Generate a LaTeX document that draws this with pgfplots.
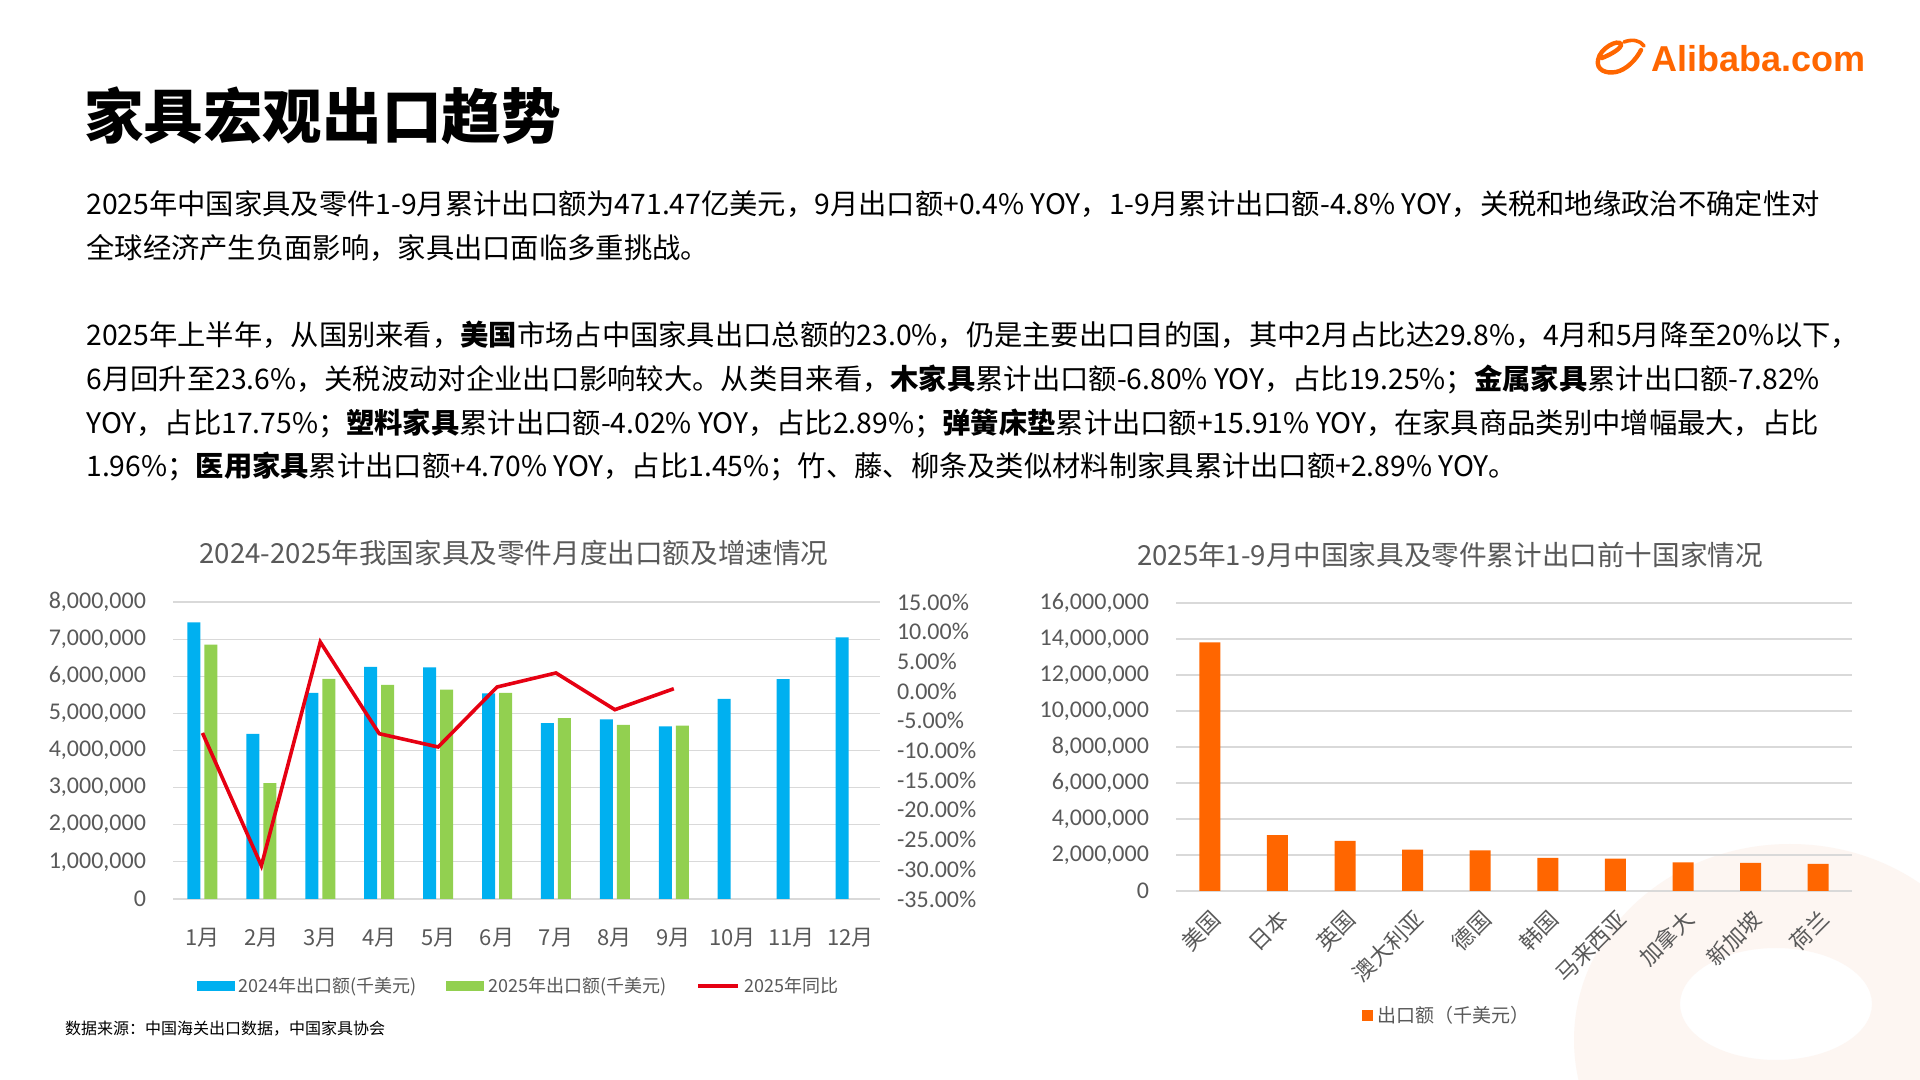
\documentclass[border=0pt]{standalone}
\usepackage{fontspec}
\setmainfont{Noto Sans CJK SC}
\newfontfamily\tickfont{Carlito}
\newfontfamily\logofont{Liberation Sans}
\usepackage{pgfplots}
\pgfplotsset{compat=1.18}
\pgfplotsset{/pgf/number format/assume math mode=true}
\definecolor{c24}{HTML}{00B0F0}
\definecolor{c25}{HTML}{92D050}
\definecolor{cred}{HTML}{E60012}
\definecolor{corange}{HTML}{FF6600}
\definecolor{gridc}{HTML}{D9D9D9}
\definecolor{txt}{HTML}{595959}
\definecolor{peach}{HTML}{FDF6F2}
\newcommand{\ptext}{\fontsize{14.15pt}{16pt}\selectfont}
\begin{document}
\begin{tikzpicture}
\useasboundingbox[fill=white] (0,0) rectangle (960pt,540pt);
% faint background ring
\begin{scope}
\clip (0,0) rectangle (960pt,540pt);
\fill[peach, even odd rule] (895pt,20pt) ellipse [x radius=108pt, y radius=98pt]
   (888pt,38pt) ellipse [x radius=48pt, y radius=28pt];
\end{scope}
% logo
\draw[corange, line width=2.2pt, line cap=round] (801pt,511pt) .. controls (806pt,513pt) and (811pt,516pt) .. (810.5pt,518pt) .. controls (809pt,520.5pt) and (800pt,516pt) .. (799pt,510pt) .. controls (798pt,505pt) and (803pt,503pt) .. (808pt,504pt) .. controls (813pt,505pt) and (818pt,510pt) .. (820.5pt,515pt);
\draw[corange, line width=1.8pt, line cap=round] (812pt,519pt) .. controls (816pt,520.5pt) and (820pt,520pt) .. (822pt,517pt);
\node[anchor=west, text=corange, font=\logofont\fontsize{18pt}{20pt}\selectfont\bfseries] at (822pt,510.5pt) {Alibaba.com};
% title
\node[anchor=west, font=\fontsize{29.8pt}{34pt}\selectfont\bfseries] at (38.5pt,482pt) {家具宏观出口趋势};
% paragraphs
\node[anchor=base west, inner sep=0pt, font=\ptext] at (43pt,432.7pt) {2025年中国家具及零件1-9月累计出口额为471.47亿美元，9月出口额+0.4\% YOY，1-9月累计出口额-4.8\% YOY，关税和地缘政治不确定性对};
\node[anchor=base west, inner sep=0pt, font=\ptext] at (43pt,410.6pt) {全球经济产生负面影响，家具出口面临多重挑战。};
\node[anchor=base west, inner sep=0pt, font=\ptext] at (43pt,367.2pt) {2025年上半年，从国别来看，\textbf{美国}市场占中国家具出口总额的23.0\%，仍是主要出口目的国，其中2月占比达29.8\%，4月和5月降至20\%以下，};
\node[anchor=base west, inner sep=0pt, font=\ptext] at (43pt,345.1pt) {6月回升至23.6\%，关税波动对企业出口影响较大。从类目来看，\textbf{木家具}累计出口额-6.80\% YOY，占比19.25\%；\textbf{金属家具}累计出口额-7.82\%};
\node[anchor=base west, inner sep=0pt, font=\ptext] at (43pt,323.1pt) {YOY，占比17.75\%；\textbf{塑料家具}累计出口额-4.02\% YOY，占比2.89\%；\textbf{弹簧床垫}累计出口额+15.91\% YOY，在家具商品类别中增幅最大，占比};
\node[anchor=base west, inner sep=0pt, font=\ptext] at (43pt,301.7pt) {1.96\%；\textbf{医用家具}累计出口额+4.70\% YOY，占比1.45\%；竹、藤、柳条及类似材料制家具累计出口额+2.89\% YOY。};
% chart titles
\node[text=txt, font=\fontsize{13.8pt}{15pt}\selectfont] at (257pt,263.5pt) {2024-2025年我国家具及零件月度出口额及增速情况};
\node[text=txt, font=\fontsize{13.8pt}{15pt}\selectfont] at (725pt,262.5pt) {2025年1-9月中国家具及零件累计出口前十国家情况};
% source
\node[anchor=west, font=\fontsize{8pt}{10pt}\selectfont] at (29pt,25.5pt) {数据来源：中国海关出口数据，中国家具协会};

% left chart bars
\begin{axis}[at={(86.5pt,90.5pt)}, anchor=south west, scale only axis,
  width=353.5pt, height=148.5pt,
  xmin=0.5, xmax=12.5, ymin=0, ymax=8000000,
  ybar=2pt, bar width=6.5pt,
  xtick={1,2,3,4,5,6,7,8,9,10,11,12},
  xticklabels={1月,2月,3月,4月,5月,6月,7月,8月,9月,10月,11月,12月},
  ytick={0,1000000,2000000,3000000,4000000,5000000,6000000,7000000,8000000},
  scaled y ticks=false,
  yticklabel style={/pgf/number format/fixed, /pgf/number format/1000 sep={,}, font=\tickfont\fontsize{12pt}{13pt}\selectfont, text=txt, xshift=-10pt},
  xticklabel style={font=\fontsize{11pt}{12pt}\selectfont, text=txt, yshift=-11pt},
  ymajorgrids, grid style={gridc, line width=0.6pt},
  axis line style={draw=none},
  major tick length=0pt,
]
\addplot[fill=c24, draw=none] coordinates {(1,7450000) (2,4450000) (3,5550000) (4,6250000) (5,6240000) (6,5540000) (7,4740000) (8,4840000) (9,4650000) (10,5390000) (11,5920000) (12,7050000)};
\addplot[fill=c25, draw=none] coordinates {(1,6850000) (2,3120000) (3,5930000) (4,5770000) (5,5640000) (6,5550000) (7,4870000) (8,4690000) (9,4670000)};
\end{axis}
% left chart line
\begin{axis}[at={(86.5pt,90.5pt)}, anchor=south west, scale only axis,
  width=353.5pt, height=148.5pt,
  xmin=0.5, xmax=12.5, ymin=-35, ymax=15,
  axis y line*=right, axis x line=none,
  ytick={-35,-30,-25,-20,-15,-10,-5,0,5,10,15},
  yticklabel={\pgfmathprintnumber[fixed,fixed zerofill,precision=2]{\tick}\%},
  yticklabel style={font=\tickfont\fontsize{12pt}{13pt}\selectfont, text=txt, xshift=5pt},
  axis line style={draw=none},
  major tick length=0pt,
  legend style={at={(0.49,-0.293)}, anchor=center, draw=none, fill=none,
    legend columns=3, font=\fontsize{9pt}{10pt}\selectfont, text=txt,
    /tikz/every even column/.append style={column sep=13pt}},
]
\addlegendimage{legend image code/.code={\fill[c24] (0pt,-2.25pt) rectangle (18.5pt,2.25pt);}}
\addlegendentry{2024年出口额(千美元)}
\addlegendimage{legend image code/.code={\fill[c25] (0pt,-2.25pt) rectangle (18.5pt,2.25pt);}}
\addlegendentry{2025年出口额(千美元)}
\addplot[cred, line width=1.8pt, legend image code/.code={\draw[cred, line width=2pt] (0pt,0pt) -- (20pt,0pt);}] coordinates {(1,-7.05) (2,-29.4) (3,8.27) (4,-7.17) (5,-9.41) (6,0.69) (7,3.05) (8,-3.13) (9,0.4)};
\addlegendentry{2025年同比}
\end{axis}

% right chart
\begin{axis}[at={(588pt,94.5pt)}, anchor=south west, scale only axis,
  width=338pt, height=144pt,
  xmin=-0.5, xmax=9.5, ymin=0, ymax=16000000,
  ybar, bar width=10.5pt,
  xtick={0,1,2,3,4,5,6,7,8,9},
  xticklabels={美国,日本,英国,澳大利亚,德国,韩国,马来西亚,加拿大,新加坡,荷兰},
  xticklabel style={xshift=5.8pt, yshift=-9.5pt, rotate=45, anchor=east, font=\fontsize{11pt}{12pt}\selectfont, text=txt},
  ytick={0,2000000,4000000,6000000,8000000,10000000,12000000,14000000,16000000},
  scaled y ticks=false,
  yticklabel style={/pgf/number format/fixed, /pgf/number format/1000 sep={,}, font=\tickfont\fontsize{12pt}{13pt}\selectfont, text=txt, xshift=-10pt},
  ymajorgrids, grid style={gridc, line width=0.6pt},
  axis line style={draw=none},
  major tick length=0pt,
  legend style={at={(0.402,-0.434)}, anchor=center, draw=none, fill=none,
    font=\fontsize{9.5pt}{11pt}\selectfont, text=txt},
  legend image code/.code={\fill[corange] (0pt,-2.75pt) rectangle (5.5pt,2.75pt);},
]
\addplot[fill=corange, draw=none] coordinates {(0,13810000) (1,3100000) (2,2780000) (3,2300000) (4,2260000) (5,1840000) (6,1800000) (7,1590000) (8,1560000) (9,1500000)};
\addlegendentry{出口额（千美元）}
\end{axis}
\end{tikzpicture}
\end{document}
